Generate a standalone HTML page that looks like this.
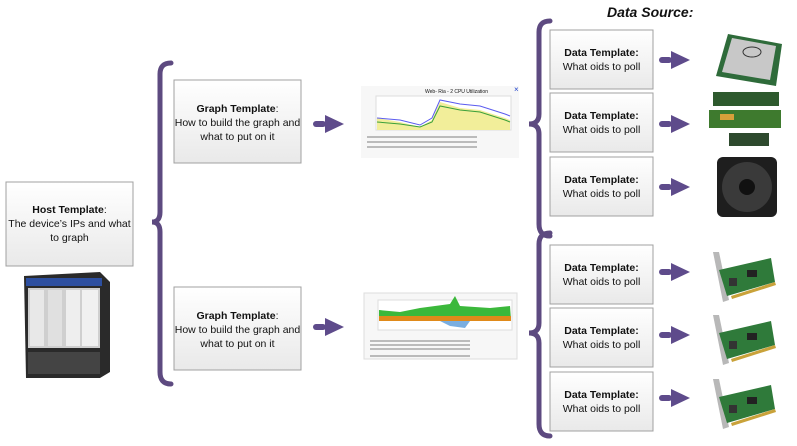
<!DOCTYPE html>
<html><head><meta charset="utf-8"><style>
html,body{margin:0;padding:0;background:#fff;width:797px;height:446px;overflow:hidden}
svg{display:block}
text{font-family:"Liberation Sans",sans-serif;font-size:10.5px;fill:#111}
.b{font-weight:bold}
</style></head><body>
<svg width="797" height="446" viewBox="0 0 797 446" xmlns="http://www.w3.org/2000/svg">
<defs>
<linearGradient id="g" x1="0" y1="0" x2="0" y2="1"><stop offset="0" stop-color="#ffffff"/><stop offset="1" stop-color="#e9e9e9"/></linearGradient>
<g id="arr"><rect x="0" y="-3" width="13" height="6" rx="3" fill="#5e4b8b"/><polygon points="12,-9 31,0 12,9" fill="#5e4b8b"/></g>
<g id="nic">
<polygon points="4,0 10,0 20,48 14,50" fill="#b8b8b8"/>
<polygon points="10,18 62,6 66,30 18,44" fill="#2f7a3a"/>
<rect x="20" y="26" width="8" height="8" fill="#333"/>
<rect x="38" y="18" width="10" height="7" fill="#222"/>
<polygon points="22,44 66,30 67,33 23,47" fill="#c9a23a"/>
</g>
</defs>
<g fill="none" stroke="#5d4a80" stroke-width="5" stroke-linecap="round">
<path d="M171,63 Q160,63 160,74 L160,212 Q160,222 152,222 Q160,222 160,232 L160,372 Q160,384 171,384"/>
<path d="M550,21 Q539,21 539,32 L539,114 Q539,124 529,124 Q539,124 539,134 L539,224 Q539,236 550,236"/>
<path d="M550,233 Q539,233 539,244 L539,323 Q539,333 529,333 Q539,333 539,343 L539,424 Q539,436 550,436"/>
</g>
<rect x="6" y="182" width="127" height="84" fill="url(#g)" stroke="#a0a0a0"/>
<text x="69.5" y="213" text-anchor="middle"><tspan class="b">Host Template</tspan>:</text>
<text x="69.5" y="227" text-anchor="middle">The device’s IPs and what</text>
<text x="69.5" y="241" text-anchor="middle">to graph</text>
<g>
<polygon points="24,276 100,272 110,282 110,372 100,378 26,378" fill="#2a2a2a"/>
<rect x="26" y="278" width="76" height="8" fill="#2d4fa0"/>
<rect x="28" y="288" width="72" height="60" fill="#cfcfcf"/>
<rect x="30" y="290" width="14" height="56" fill="#e8e8e8"/><rect x="48" y="290" width="14" height="56" fill="#e0e0e0"/>
<rect x="66" y="290" width="14" height="56" fill="#eee"/><rect x="82" y="290" width="16" height="56" fill="#f0f0f0"/>
<rect x="28" y="352" width="72" height="22" fill="#444"/>
</g>
<rect x="174" y="80" width="127" height="83" fill="url(#g)" stroke="#a0a0a0"/>
<text x="237.5" y="112" text-anchor="middle"><tspan class="b">Graph Template</tspan>:</text>
<text x="237.5" y="126" text-anchor="middle">How to build the graph and</text>
<text x="237.5" y="140" text-anchor="middle">what to put on it</text>
<rect x="174" y="287" width="127" height="83" fill="url(#g)" stroke="#a0a0a0"/>
<text x="237.5" y="319" text-anchor="middle"><tspan class="b">Graph Template</tspan>:</text>
<text x="237.5" y="333" text-anchor="middle">How to build the graph and</text>
<text x="237.5" y="347" text-anchor="middle">what to put on it</text>
<use href="#arr" x="313" y="124"/>
<use href="#arr" x="313" y="327"/>
<rect x="361" y="86" width="158" height="72" fill="#f7f7f7"/>
<rect x="376" y="96" width="135" height="34" fill="#fff" stroke="#ddd"/>
<polygon points="377,130 377,118 400,122 420,127 432,120 440,102 460,108 480,110 505,118 510,120 510,130" fill="#f2ee9a"/>
<polyline points="377,118 400,120 420,125 432,118 440,100 460,104 480,106 505,114 510,116" fill="none" stroke="#5b5bef" stroke-width="1"/>
<polyline points="377,122 400,124 420,127 432,122 440,106 460,110 480,112 505,120 510,122" fill="none" stroke="#3aa03a" stroke-width="1"/>
<g fill="#bbb"><rect x="367" y="136" width="110" height="2"/><rect x="367" y="141" width="110" height="2"/><rect x="367" y="146" width="110" height="2"/></g>
<text x="425" y="93" style="font-size:5px">Web-    Ria - 2 CPU Utilization</text>
<text x="514" y="92" style="font-size:8px;fill:#2244cc">×</text>
<rect x="364" y="293" width="153" height="66" fill="#f7f7f7" stroke="#ddd"/>
<rect x="378" y="300" width="134" height="30" fill="#fff" stroke="#ddd"/>
<polygon points="379,320 379,310 400,312 420,308 450,304 455,296 460,306 490,308 510,306 511,320" fill="#3bb83b"/>
<rect x="379" y="316" width="132" height="5" fill="#e08a1a"/>
<polygon points="440,321 470,321 465,328 450,326" fill="#7aaee0"/>
<g fill="#bbb"><rect x="370" y="340" width="100" height="2"/><rect x="370" y="344" width="100" height="2"/><rect x="370" y="348" width="100" height="2"/><rect x="370" y="355" width="100" height="2"/></g>
<text x="607" y="17" style="font-size:14px;font-weight:bold;font-style:italic">Data Source:</text>
<g>
<rect x="550" y="30" width="103" height="59" fill="url(#g)" stroke="#a0a0a0"/>
<rect x="550" y="93" width="103" height="59" fill="url(#g)" stroke="#a0a0a0"/>
<rect x="550" y="157" width="103" height="59" fill="url(#g)" stroke="#a0a0a0"/>
<rect x="550" y="245" width="103" height="59" fill="url(#g)" stroke="#a0a0a0"/>
<rect x="550" y="308" width="103" height="59" fill="url(#g)" stroke="#a0a0a0"/>
<rect x="550" y="372" width="103" height="59" fill="url(#g)" stroke="#a0a0a0"/>
</g>
<g text-anchor="middle">
<text x="601.5" y="56" class="b">Data Template:</text><text x="601.5" y="70">What oids to poll</text>
<text x="601.5" y="119" class="b">Data Template:</text><text x="601.5" y="133">What oids to poll</text>
<text x="601.5" y="183" class="b">Data Template:</text><text x="601.5" y="197">What oids to poll</text>
<text x="601.5" y="271" class="b">Data Template:</text><text x="601.5" y="285">What oids to poll</text>
<text x="601.5" y="334" class="b">Data Template:</text><text x="601.5" y="348">What oids to poll</text>
<text x="601.5" y="398" class="b">Data Template:</text><text x="601.5" y="412">What oids to poll</text>
</g>
<use href="#arr" x="659" y="60"/>
<use href="#arr" x="659" y="124"/>
<use href="#arr" x="659" y="187"/>
<use href="#arr" x="659" y="272"/>
<use href="#arr" x="659" y="335"/>
<use href="#arr" x="659" y="398"/>
<polygon points="728,34 782,44 776,86 716,76" fill="#2e6b3a"/>
<polygon points="732,38 776,46 770,80 722,72" fill="#c8c8c8"/>
<ellipse cx="752" cy="52" rx="9" ry="5" fill="none" stroke="#333" stroke-width="1"/>
<rect x="713" y="92" width="66" height="14" fill="#2e5a2e"/>
<rect x="709" y="110" width="72" height="18" fill="#3e7a2e"/>
<rect x="720" y="114" width="14" height="6" fill="#d9a03a"/>
<rect x="729" y="133" width="40" height="13" fill="#2e4a2e"/>
<rect x="717" y="157" width="60" height="60" rx="6" fill="#1e1e1e"/>
<circle cx="747" cy="187" r="25" fill="#3a3a3a"/>
<circle cx="747" cy="187" r="8" fill="#111"/>
<use href="#nic" x="709" y="252"/>
<use href="#nic" x="709" y="315"/>
<use href="#nic" x="709" y="379"/>
</svg>
</body></html>
